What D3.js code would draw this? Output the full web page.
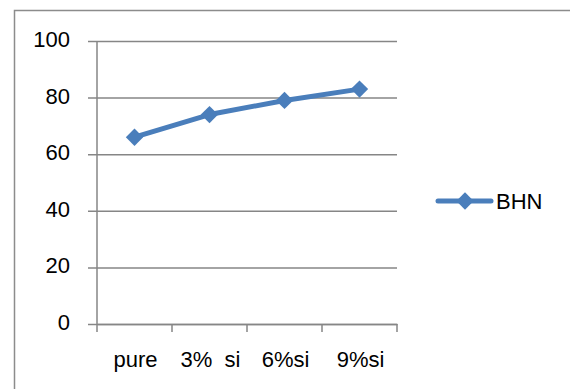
<!DOCTYPE html>
<html>
<head>
<meta charset="utf-8">
<script src="https://cdn.jsdelivr.net/npm/d3@7"></script>
<style>
  html, body { margin: 0; padding: 0; background: #fff; }
  svg { display: block; }
  text { font-family: "Liberation Sans", Arial, sans-serif; fill: #000; white-space: pre; }
</style>
</head>
<body>
<svg id="chart" width="570" height="389"></svg>
<script>
// Hardness by silicon content
const categories = ["pure", "3%  si", "6%si", "9%si"];
const bhnValues = [66, 74, 79, 83];
const yTicks = [0, 20, 40, 60, 80, 100];
const seriesName = "BHN";

const svg = d3.select("#chart");
const W = 570, H = 389;
const plot = { left: 97, right: 397, top: 41, bottom: 324 };
const gridColor = "#868686";
const lineColor = "#4A7EBB";
const fontSize = 22;

// Chart frame (right and bottom edges fall outside the visible area)
svg.append("rect")
  .attr("x", 14.5).attr("y", 10.5)
  .attr("width", W).attr("height", H)
  .attr("fill", "#fff")
  .attr("stroke", "#8c8c8c")
  .attr("stroke-width", 1.5);

const x = d3.scaleBand().domain(categories).range([plot.left, plot.right]).padding(0);
const y = d3.scaleLinear().domain([0, 100]).range([plot.bottom, plot.top]);

// Horizontal gridlines with left tick marks
const yAxis = d3.axisLeft(y)
  .tickValues(yTicks)
  .tickSize(-(plot.right - plot.left))
  .tickSizeOuter(0)
  .tickFormat("");
const gy = svg.append("g").attr("transform", `translate(${plot.left},0)`).call(yAxis);
gy.select(".domain").remove();
gy.selectAll(".tick line")
  .attr("x1", -9)
  .attr("stroke", gridColor).attr("stroke-width", 1.5);

// Y tick labels
svg.append("g").selectAll("text")
  .data(yTicks)
  .join("text")
  .attr("x", 70)
  .attr("y", d => y(d) + 6)
  .attr("text-anchor", "end")
  .attr("font-size", fontSize)
  .text(d => d);

// Vertical axis line
svg.append("line")
  .attr("x1", plot.left).attr("x2", plot.left)
  .attr("y1", plot.top).attr("y2", plot.bottom)
  .attr("stroke", gridColor).attr("stroke-width", 1.5);

// X axis with ticks at band boundaries
const xAxis = d3.axisBottom(x).tickSize(0).tickSizeOuter(0).tickFormat("");
const gx = svg.append("g").attr("transform", `translate(0,${plot.bottom})`).call(xAxis);
gx.select(".domain").attr("stroke", gridColor).attr("stroke-width", 1.5);
gx.selectAll(".tick").remove();
const boundaries = categories.map(c => x(c)).concat([x(categories[categories.length - 1]) + x.bandwidth()]);
gx.selectAll("line.bt")
  .data(boundaries)
  .join("line")
  .attr("class", "bt")
  .attr("x1", d => d).attr("x2", d => d)
  .attr("y1", 0).attr("y2", 8)
  .attr("stroke", gridColor).attr("stroke-width", 1.5);

// X category labels
svg.append("g").selectAll("text")
  .data(categories)
  .join("text")
  .attr("x", d => x(d) + x.bandwidth() / 2 + 1)
  .attr("y", 367)
  .attr("text-anchor", "middle")
  .attr("font-size", fontSize)
  .text(d => d);

// Series line
const pts = categories.map((c, i) => [x(c) + x.bandwidth() / 2, y(bhnValues[i])]);
svg.append("path")
  .attr("d", d3.line()(pts))
  .attr("fill", "none")
  .attr("stroke", lineColor)
  .attr("stroke-width", 5)
  .attr("stroke-linejoin", "round")
  .attr("stroke-linecap", "round");

// Diamond markers
const diamond = d3.symbol(d3.symbolSquare, 150)();
svg.append("g").selectAll("path")
  .data(pts)
  .join("path")
  .attr("d", diamond)
  .attr("transform", d => `translate(${d[0]},${d[1]}) rotate(45)`)
  .attr("fill", lineColor);

// Legend
const lg = svg.append("g");
lg.append("line")
  .attr("x1", 438).attr("x2", 491)
  .attr("y1", 201).attr("y2", 201)
  .attr("stroke", lineColor).attr("stroke-width", 5)
  .attr("stroke-linecap", "round");
lg.append("path")
  .attr("d", diamond)
  .attr("transform", "translate(465,201) rotate(45)")
  .attr("fill", lineColor);
lg.append("text")
  .attr("x", 496).attr("y", 209)
  .attr("font-size", fontSize)
  .text(seriesName);
</script>
</body>
</html>
